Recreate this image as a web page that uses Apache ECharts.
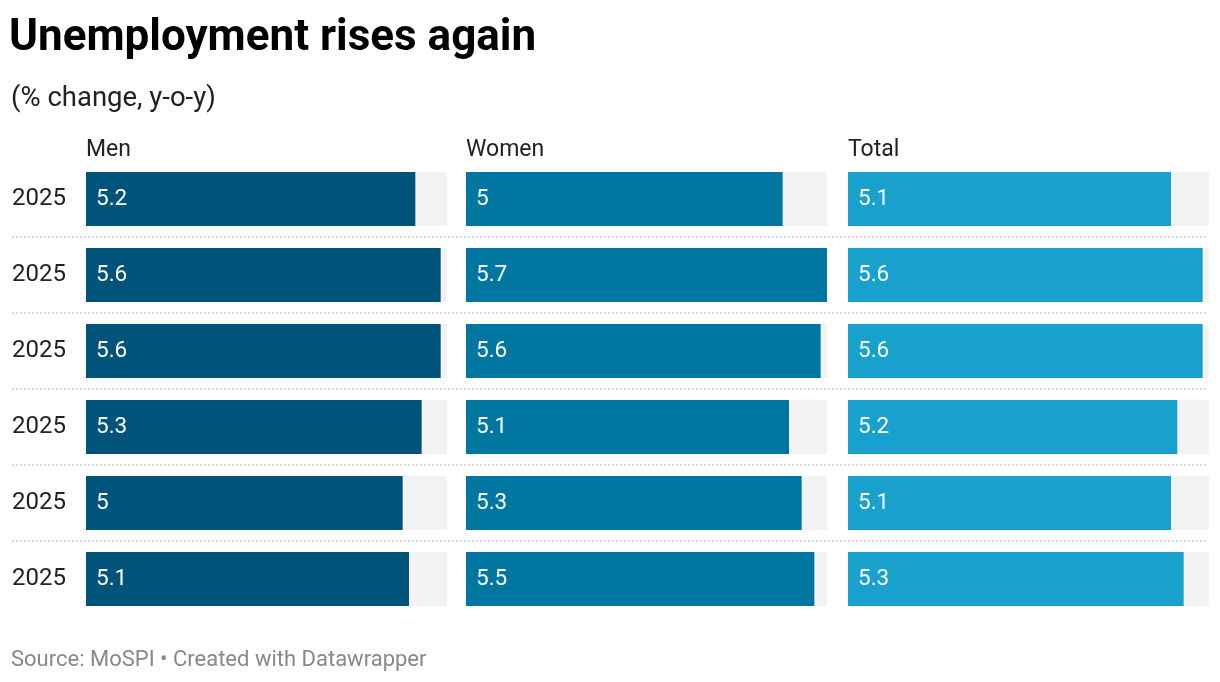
<!DOCTYPE html>
<html>
<head>
<meta charset="utf-8">
<script src="https://cdn.jsdelivr.net/npm/echarts@6/dist/echarts.min.js"></script>
<style>
html,body{margin:0;padding:0;background:#fff;}
#c{width:1220px;height:682px;}
</style>
</head>
<body>
<div id="c"></div>
<script>
var rowLabels = ['2025','2025','2025','2025','2025','2025'];
var panels = ['Men','Women','Total'];
var men   = [5.2, 5.6, 5.6, 5.3, 5.0, 5.1];
var women = [5.0, 5.7, 5.6, 5.1, 5.3, 5.5];
var total = [5.1, 5.6, 5.6, 5.2, 5.1, 5.3];
var scaleMax = 5.7;

var colors = ['#005379', '#0077a0', '#18a1cd'];
var seriesData = [men, women, total];
var lefts = [86, 466, 848];
var gridTop = 161, gridH = 456, gridW = 361;
var FONT = 'Roboto';

var grids = [], xAxes = [], yAxes = [], series = [], titles = [];
titles.push({text:'Unemployment rises again', left: 9, top: 17, padding:0,
  textStyle:{fontFamily:FONT, fontSize:44, fontWeight:'bold', color:'#000'}});
titles.push({text:'(% change, y-o-y)', left: 11, top: 85, padding:0,
  textStyle:{fontFamily:FONT, fontSize:27.5, fontWeight:'normal', color:'#222'}});
titles.push({text:'Source: MoSPI • Created with Datawrapper', left: 11, top: 649, padding:0,
  textStyle:{fontFamily:FONT, fontSize:22, fontWeight:'normal', color:'#888'}});

for (var i = 0; i < 3; i++) {
  grids.push({left: lefts[i], top: gridTop, width: gridW, height: gridH, containLabel:false});
  xAxes.push({type:'value', gridIndex:i, min:0, max:scaleMax, show:false});
  yAxes.push({type:'category', gridIndex:i, data: rowLabels, inverse:true,
    axisLine:{show:false}, axisTick:{show:false}, splitLine:{show:false},
    axisLabel:{show: i === 0, margin: 20, fontFamily:FONT, fontSize:24, color:'#222'}});
  series.push({type:'bar', xAxisIndex:i, yAxisIndex:i, data: seriesData[i],
    barWidth:54, itemStyle:{color: colors[i]},
    showBackground:true, backgroundStyle:{color:'#f2f2f2'},
    label:{show:true, position:'insideLeft', distance:10, color:'#fff',
      fontFamily:FONT, fontSize:22.5, formatter: function(p){ return String(p.value); }},
    silent:true, animation:false});
  titles.push({text: panels[i], left: lefts[i], top: 139, padding:0,
    textStyle:{fontFamily:FONT, fontSize:23, fontWeight:'normal', color:'#222'}});
}
// separator grid
grids.push({left: 12, top: gridTop, width: 1196, height: gridH});
xAxes.push({type:'value', gridIndex:3, min:0, max:1, show:false});
yAxes.push({type:'value', gridIndex:3, min:0, max:rowLabels.length, interval:1,
  axisLine:{show:false}, axisTick:{show:false}, axisLabel:{show:false},
  splitLine:{show:true, showMinLine:false, showMaxLine:false,
    lineStyle:{color:'#cccccc', width:1.5, type:[2,2]}}});

var chart = echarts.init(document.getElementById('c'), null, {renderer:'canvas'});
chart.setOption({
  backgroundColor:'#fff',
  animation:false,
  title: titles,
  grid: grids,
  xAxis: xAxes,
  yAxis: yAxes,
  series: series
});
</script>
</body>
</html>
